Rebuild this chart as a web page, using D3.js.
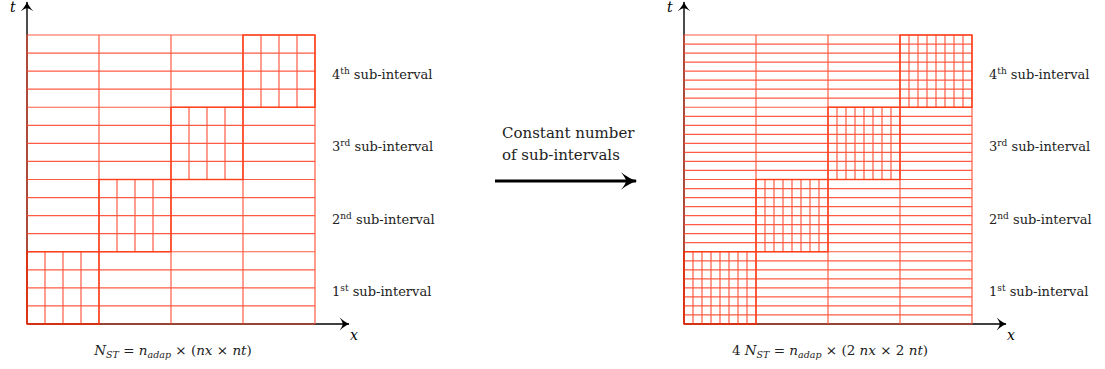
<!DOCTYPE html>
<html>
<head>
<meta charset="utf-8">
<script src="https://cdn.jsdelivr.net/npm/d3@7"></script>
<style>
  body { margin: 0; background: #fff; }
</style>
</head>
<body>
<svg id="chart"></svg>
<script>
var width = 1105;
var height = 369;
var serif = "'DejaVu Serif', 'Liberation Serif', 'Times New Roman', serif";

// sub-intervals (ordinal + superscript suffix)
var subIntervals = ["1", "2", "3", "4"];
var subSuffix = ["st", "nd", "rd", "th"];

// per panel: coarse columns, time rows per sub-interval, refinement of the active block
var panelNames = ["before", "after"];
var nxCoarse = [4, 4];
var ntPerSub = [4, 8];
var fineDiv = [4, 8];
var panelLeft = [27, 684];

// formula text under each panel, split in pieces [text, style]
var formulas = [
  [["N", "i"], ["ST", "sub"], [" = ", ""], ["n", "i"], ["adap", "sub"], [" × (", ""], ["nx", "i"], [" × ", ""], ["nt", "i"], [")", ""]],
  [["4 ", ""], ["N", "i"], ["ST", "sub"], [" = ", ""], ["n", "i"], ["adap", "sub"], [" × (2 ", ""], ["nx", "i"], [" × 2 ", ""], ["nt", "i"], [")", ""]]
];

var gridSize = 288;
var gridTop = 35;
var gridBottom = 324;
var red = "#ff4a30";

var svg = d3.select("#chart")
  .attr("width", width)
  .attr("height", height)
  .attr("font-family", serif);

var defs = svg.append("defs");

// latex-like arrow head for the axes
defs.append("marker")
  .attr("id", "axisHead")
  .attr("viewBox", "-10 -6 12 12")
  .attr("refX", 0).attr("refY", 0)
  .attr("markerWidth", 14).attr("markerHeight", 14)
  .attr("markerUnits", "userSpaceOnUse")
  .attr("orient", "auto")
  .append("path")
    .attr("d", "M-8,-5.5 Q-3,-1 0.5,0 Q-3,1 -8,5.5 Q-5,1 -5.5,0 Q-5,-1 -8,-5.5 Z")
    .attr("fill", "#000");

defs.append("marker")
  .attr("id", "bigHead")
  .attr("viewBox", "-14 -8 16 16")
  .attr("refX", 0).attr("refY", 0)
  .attr("markerWidth", 20).attr("markerHeight", 20)
  .attr("markerUnits", "userSpaceOnUse")
  .attr("orient", "auto")
  .append("path")
    .attr("d", "M-12,-7 Q-5,-1.5 1,0 Q-5,1.5 -12,7 Q-8,2 -8,0 Q-8,-2 -12,-7 Z")
    .attr("fill", "#000");

function vline(sel, data, x, yA, yB) {
  sel.selectAll(null)
    .data(data)
    .enter().append("line")
      .attr("x1", function(d) { return x(d); })
      .attr("x2", function(d) { return x(d); })
      .attr("y1", yA).attr("y2", yB)
      .attr("stroke", red)
      .attr("stroke-width", 1.2);
}

panelNames.forEach(function(name, p) {
  var x0 = panelLeft[p];
  var nx = nxCoarse[p];
  var nt = ntPerSub[p];
  var nf = fineDiv[p];
  var nSub = subIntervals.length;

  var x = d3.scaleLinear().domain([0, nx]).range([x0, x0 + gridSize]);
  var y = d3.scaleLinear().domain([0, nSub]).range([gridBottom, gridTop]);

  var g = svg.append("g").attr("class", "panel-" + name);

  // axes (under the grid)
  g.append("line")
    .attr("x1", x(0)).attr("x2", x(0))
    .attr("y1", y(0)).attr("y2", 2)
    .attr("stroke", "#000").attr("stroke-width", 1.4)
    .attr("marker-end", "url(#axisHead)");
  g.append("line")
    .attr("x1", x(0)).attr("x2", x(nx) + 34)
    .attr("y1", y(0)).attr("y2", y(0))
    .attr("stroke", "#000").attr("stroke-width", 1.4)
    .attr("marker-end", "url(#axisHead)");

  var grid = g.append("g").attr("opacity", 0.9);

  // horizontal time lines across the whole domain
  grid.selectAll(null)
    .data(d3.range(0, nSub * nt + 1))
    .enter().append("line")
      .attr("x1", x(0)).attr("x2", x(nx))
      .attr("y1", function(d) { return y(d / nt); })
      .attr("y2", function(d) { return y(d / nt); })
      .attr("stroke", red)
      .attr("stroke-width", 1.2);

  // coarse vertical lines
  vline(grid, d3.range(0, nx + 1), x, y(0), y(nSub));

  // refined block of each sub-interval (on the diagonal)
  subIntervals.forEach(function(s, i) {
    var fine = d3.range(1, nf).map(function(k) { return i + k / nf; });
    vline(grid, fine, x, y(i), y(i + 1));

    grid.append("rect")
      .attr("x", x(i))
      .attr("y", y(i + 1))
      .attr("width", x(i + 1) - x(i))
      .attr("height", y(i) - y(i + 1))
      .attr("fill", "none")
      .attr("stroke", "#ff2a00")
      .attr("stroke-width", 1.4);

    // sub-interval label
    var t = g.append("text")
      .attr("x", x(nx) + 17)
      .attr("y", y(i + 0.5) + 8)
      .attr("fill", "#222")
      .attr("font-size", 13);
    t.append("tspan").text(s);
    t.append("tspan").attr("dy", -5).attr("font-size", 9).text(subSuffix[i]);
    t.append("tspan").attr("dy", 5).text(" sub-interval");
  });

  // axis labels
  g.append("text")
    .attr("x", x(0) - 17).attr("y", 12)
    .attr("font-size", 14).attr("font-style", "italic")
    .text("t");
  g.append("text")
    .attr("x", x(nx) + 35).attr("y", y(0) + 16)
    .attr("font-size", 14).attr("font-style", "italic")
    .text("x");

  // formula under the grid
  var f = g.append("text")
    .attr("x", x(nx / 2) + 2)
    .attr("y", 355)
    .attr("text-anchor", "middle")
    .attr("fill", "#222")
    .attr("font-size", 13.5);
  var shift = 0;
  formulas[p].forEach(function(piece) {
    var ts = f.append("tspan").text(piece[0]);
    if (piece[1] === "i") ts.attr("font-style", "italic");
    if (piece[1] === "sub") {
      ts.attr("font-style", "italic").attr("font-size", 9.5).attr("dy", 3 - shift);
      shift = 3;
    } else if (shift) {
      ts.attr("dy", -shift);
      shift = 0;
    }
  });
});

// middle arrow and caption
svg.append("line")
  .attr("x1", 495).attr("x2", 636)
  .attr("y1", 181).attr("y2", 181)
  .attr("stroke", "#000").attr("stroke-width", 3)
  .attr("marker-end", "url(#bigHead)");

svg.append("text")
  .attr("x", 502).attr("y", 138)
  .attr("fill", "#222")
  .attr("font-size", 15)
  .text("Constant number");
svg.append("text")
  .attr("x", 502).attr("y", 160)
  .attr("fill", "#222")
  .attr("font-size", 15)
  .text("of sub-intervals");
</script>
</body>
</html>
